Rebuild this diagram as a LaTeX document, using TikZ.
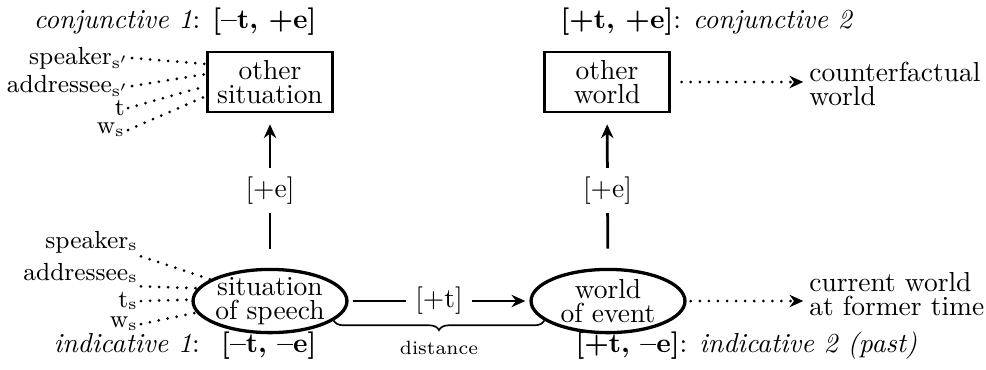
\documentclass[tikz,border=0pt]{standalone}
\usepackage{amsmath}
\usepackage{tikz}
\usetikzlibrary{arrows.meta, positioning, calc, shapes.geometric, decorations.pathreplacing}

\begin{document}
\begin{tikzpicture}[x=0.01278cm, y=-0.01278cm, every node/.style={align=center},
  sitbox/.style={draw, line width=0.8pt, minimum width=45.5pt, minimum height=22pt, inner sep=1pt},
  sitell/.style={draw, ellipse, line width=1.2pt, minimum width=56pt, minimum height=23pt, inner xsep=-1pt, inner ysep=-1.5pt},
  feat/.style={fill=white},
  up/.style={-{Stealth[length=5pt, width=4.5pt]}, line width=1pt},
  dots/.style={line width=1.1pt, line cap=round, dash pattern=on 0pt off 3.3pt},
  dotarr/.style={dots, -{Stealth[length=5pt, width=4.5pt]}},
  param/.style={anchor=east, inner sep=1pt, font=\small},
  gloss/.style={anchor=west, align=left, inner sep=1pt}]
  \useasboundingbox (0,0) rectangle (986,369);
  % situations and worlds
  \node[sitbox] (osit) at (270,82) {other\\[-3pt]situation};
  \node[sitbox] (owld) at (607,82) {other\\[-3pt]world};
  \node[sitell] (spch) at (270,301) {situation\\[-3.5pt]of speech};
  \node[sitell] (wevt) at (608,301) {world\\[-3.5pt]of event};
  % feature labels
  \node[anchor=east, inner sep=0pt] (conj1) at (317,22) {\textit{conjunctive 1}: \textbf{[--t, +e]}};
  \node[anchor=west, inner sep=0pt] (conj2) at (560,22) {\textbf{[+t, +e]}: \textit{conjunctive 2}};
  \node[anchor=east, inner sep=0pt] (ind1) at (317,346) {\textit{indicative 1}:~ \textbf{[--t, --e]}};
  \node[anchor=west, inner sep=0pt] (ind2) at (575,346) {\textbf{[+t, --e]}: \textit{indicative 2 (past)}};
  % glosses on the right
  \node[gloss] (cfw) at (806,84) {counterfactual\\[-3pt]world};
  \node[gloss] (cwft) at (806,294) {current world\\[-3pt]at former time};
  % parameters of the other situation
  \node[param] (sp1) at (132,58) {speaker$_{\mathrm{s'}}$};
  \node[param] (ad1) at (132,86) {addressee$_{\mathrm{s'}}$};
  \node[param] (t1) at (128,108) {t};
  \node[param] (w1) at (128,130) {w$_{\mathrm{s}}$};
  % parameters of the situation of speech
  \node[param] (sp0) at (141,242) {speaker$_{\mathrm{s}}$};
  \node[param] (ad0) at (141,273) {addressee$_{\mathrm{s}}$};
  \node[param] (t0) at (141,301) {t$_{\mathrm{s}}$};
  \node[param] (w0) at (141,324) {w$_{\mathrm{s}}$};

  \draw[dots] (sp1.east) -- ($(osit.west)+(0,-18)$);
  \draw[dots] (ad1.east) -- ($(osit.west)+(0,-8)$);
  \draw[dots] (t1.east) -- ($(osit.west)+(0,4)$);
  \draw[dots] (w1.east) -- ($(osit.west)+(0,14)$);
  \draw[dots] (sp0.south east) -- (spch.160);
  \draw[dots] (ad0.south east) -- (spch.170);
  \draw[dots] (t0.east) -- (spch.179);
  \draw[dots] (w0.east) -- (spch.189);

  % shifts
  \draw[up, shorten <=7pt, shorten >=4pt] (spch) -- node[feat] (e1) {[+e]} (osit);
  \draw[up, shorten <=7pt, shorten >=4pt] (wevt) -- node[feat] (e2) {[+e]} (owld);
  \draw[up, shorten <=1.5pt, shorten >=1.5pt] (spch) -- node[feat] (tt) {[+t]} (wevt);
  \draw[decorate, decoration={brace, mirror, amplitude=3.5pt}, line width=0.6pt]
    (spch.-17) -- node[below=4pt, font=\scriptsize] (dist) {distance} (wevt.197);
  \draw[dotarr, shorten <=4pt, shorten >=1pt] (owld.east) -- (owld.east -| cfw.west);
  \draw[dotarr, shorten <=1.5pt, shorten >=1pt] (wevt.east) -- (wevt.east -| cwft.west);
\end{tikzpicture}
\end{document}
